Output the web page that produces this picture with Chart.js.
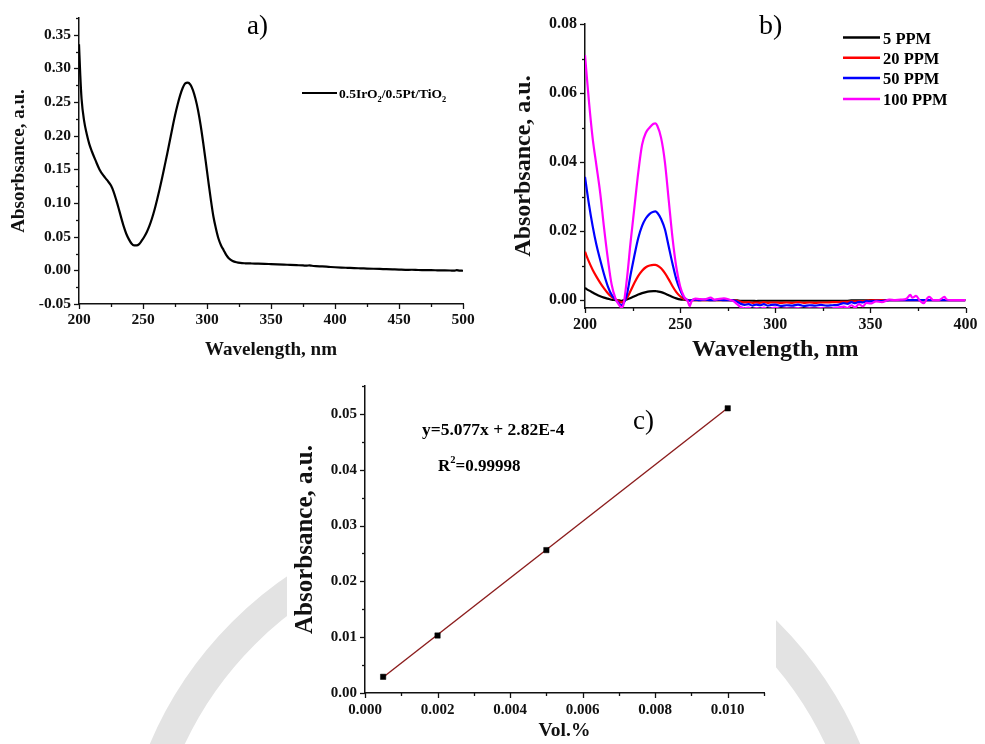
<!DOCTYPE html>
<html>
<head>
<meta charset="utf-8">
<title>UV-Vis absorbance panels</title>
<script src="https://cdn.jsdelivr.net/npm/chart.js@4.4.1/dist/chart.umd.min.js"></script>
<style>
  html, body { margin: 0; padding: 0; background: #fff; }
  #page { position: relative; width: 985px; height: 744px; overflow: hidden; background: #fff; }
  canvas { position: absolute; display: block; }
  #seal { left: 0; top: 0; }
  #chartA { left: 0; top: 0; }
  #chartB { left: 500px; top: 0; }
  #chartC { left: 287px; top: 368px; background: #fff; }
</style>
</head>
<body>
<div id="page">
  <canvas id="seal" width="985" height="744"></canvas>
  <canvas id="chartA" width="500" height="370" style="width:500px;height:370px"></canvas>
  <canvas id="chartB" width="485" height="370" style="width:485px;height:370px"></canvas>
  <canvas id="chartC" width="489" height="376" style="width:489px;height:376px"></canvas>
</div>
<script>
// ---- (a) spectrum of the 0.5IrO2/0.5Pt/TiO2 catalyst ----
const waveA = [200, 201, 202, 204, 206, 208, 210, 213, 216, 219, 222, 225, 227, 229, 231, 233, 235, 237, 239, 241,
  243, 245, 247, 249, 251, 253, 255, 257, 259, 261, 263, 265, 267, 269, 271, 273, 275, 277, 279, 281,
  283, 285, 287, 289, 291, 293, 295, 297, 299, 301, 303, 305, 307, 309, 311, 313, 315, 317, 320, 323,
  326, 330, 335, 340, 345, 350, 355, 360, 365, 370, 375, 378, 380, 382, 385, 390, 395, 400, 405, 410,
  415, 420, 425, 430, 435, 440, 445, 450, 455, 460, 465, 470, 475, 480, 485, 490, 493, 495, 497, 500];
const absA = [0.336, 0.290, 0.255, 0.222, 0.203, 0.188, 0.177, 0.163, 0.150, 0.141, 0.134, 0.126, 0.117, 0.105, 0.092, 0.078, 0.065, 0.054, 0.046, 0.040,
  0.037, 0.037, 0.039, 0.044, 0.050, 0.057, 0.066, 0.077, 0.090, 0.105, 0.121, 0.138, 0.156, 0.174, 0.193, 0.212, 0.230, 0.246, 0.260, 0.271,
  0.278, 0.279, 0.276, 0.268, 0.255, 0.238, 0.216, 0.190, 0.162, 0.133, 0.105, 0.080, 0.062, 0.047, 0.037, 0.030, 0.023, 0.018, 0.014, 0.012,
  0.0110, 0.0105, 0.0102, 0.0100, 0.0097, 0.0093, 0.0089, 0.0085, 0.0081, 0.0077, 0.0073, 0.0070, 0.0074, 0.0068, 0.0063, 0.0058, 0.0052, 0.0046, 0.0041, 0.0037,
  0.0033, 0.0030, 0.0027, 0.0024, 0.0021, 0.0018, 0.0015, 0.0012, 0.0008, 0.0009, 0.0005, 0.0004, 0.0002, 0.0001, 0.0000, -0.0002, -0.0005, 0.0002, -0.0003, -0.0006];
const legendA = [{ t: '0.5IrO' }, { t: '2', sub: true }, { t: '/0.5Pt/TiO' }, { t: '2', sub: true }];

// ---- (b) spectra at four concentrations ----
const waveB = [200, 202, 204, 206, 208, 210, 212, 214, 216, 218, 219, 220, 222, 224, 226, 228, 230, 232, 234, 236,
  237, 238, 240, 242, 244, 246, 248, 250, 252, 254, 255, 256, 258, 260, 263, 266, 268, 270, 273, 276,
  278, 280, 282, 284, 286, 288, 290, 292, 294, 296, 298, 300, 303, 306, 309, 312, 315, 318, 321, 324,
  327, 330, 333, 336, 338, 340, 342, 344, 346, 348, 350, 353, 356, 360, 363, 366, 369, 371, 372, 374,
  376, 378, 380, 381, 383, 386, 389, 390, 392, 395, 400];
const ppm5 = [0.0035, 0.0028, 0.0022, 0.0016, 0.0011, 0.0007, 0.0004, 0.0001, 0.0000, -0.0001, -0.0002, -0.0001, 0.0002, 0.0006, 0.0011, 0.0016, 0.0020, 0.0023, 0.0025, 0.0026,
  0.0026, 0.0025, 0.0023, 0.0019, 0.0014, 0.0009, 0.0005, 0.0002, 0.0001, 0.0000, 0, 0, 0, 0, 0, 0, 0, 0, 0, 0,
  0.0000, -0.0001, -0.0002, -0.0002, -0.0002, -0.0002, -0.0003, -0.0002, -0.0002, -0.0002, -0.0002, -0.0002, -0.0002, -0.0002, -0.0002, -0.0002, -0.0002, -0.0002, -0.0002, -0.0002,
  -0.0002, -0.0002, -0.0002, -0.0002, -0.0002, -0.0001, -0.0001, -0.0001, -0.0001, -0.0001, 0, 0, 0, 0, 0, 0, 0, 0, 0, 0,
  0, 0, 0, 0, 0, 0, 0, 0, 0, 0, 0];
const ppm20 = [0.0140, 0.0112, 0.0088, 0.0068, 0.0050, 0.0034, 0.0020, 0.0009, 0.0002, -0.0004, -0.0007, -0.0005, 0.0006, 0.0027, 0.0050, 0.0070, 0.0085, 0.0095, 0.0100, 0.0102,
  0.0102, 0.0100, 0.0092, 0.0078, 0.0060, 0.0040, 0.0023, 0.0011, 0.0003, 0.0000, 0, 0, 0, 0, 0, 0, 0, 0, 0, 0,
  0.0000, -0.0002, -0.0005, -0.0007, -0.0006, -0.0008, -0.0007, -0.0008, -0.0006, -0.0008, -0.0007, -0.0007, -0.0008, -0.0007, -0.0008, -0.0006, -0.0008, -0.0007, -0.0008, -0.0007,
  -0.0007, -0.0006, -0.0006, -0.0005, -0.0005, -0.0004, -0.0004, -0.0003, -0.0003, -0.0002, -0.0001, 0, 0, 0, 0, 0, 0, 0, 0, 0,
  0, 0, 0, 0, 0, 0, 0, 0, 0, 0, 0];
const ppm50 = [0.0357, 0.0280, 0.0215, 0.0160, 0.0116, 0.0075, 0.0040, 0.0015, 0.0002, -0.0010, -0.0015, -0.0012, 0.0015, 0.0075, 0.0130, 0.0180, 0.0215, 0.0237, 0.0250, 0.0256,
  0.0257, 0.0253, 0.0235, 0.0205, 0.0155, 0.0105, 0.0060, 0.0030, 0.0008, 0.0000, -0.0002, 0.0000, 0.0001, 0.0000, 0.0001, 0.0000, 0.0000, 0.0001, 0.0000, 0.0000,
  -0.0001, -0.0005, -0.0011, -0.0014, -0.0012, -0.0016, -0.0013, -0.0015, -0.0012, -0.0016, -0.0014, -0.0013, -0.0017, -0.0015, -0.0016, -0.0013, -0.0017, -0.0015, -0.0016, -0.0014,
  -0.0016, -0.0015, -0.0014, -0.0009, -0.0011, -0.0006, -0.0009, -0.0005, -0.0007, -0.0003, -0.0004, -0.0002, -0.0003, 0, 0, 0, 0, 0, 0, 0,
  0, 0, 0, 0, 0, 0, 0, 0, 0, 0, 0];
const ppm100 = [0.0710, 0.0580, 0.0470, 0.0390, 0.0310, 0.0210, 0.0120, 0.0045, 0.0005, -0.0015, -0.0021, -0.0017, 0.0060, 0.0170, 0.0270, 0.0370, 0.0450, 0.0485, 0.0500, 0.0511,
  0.0512, 0.0505, 0.0470, 0.0400, 0.0290, 0.0180, 0.0095, 0.0040, 0.0010, -0.0003, -0.0018, -0.0004, 0.0004, 0.0003, 0.0002, 0.0007, 0.0001, 0.0003, 0.0005, 0.0001,
  -0.0003, -0.0012, -0.0021, -0.0024, -0.0022, -0.0026, -0.0023, -0.0025, -0.0022, -0.0026, -0.0024, -0.0022, -0.0026, -0.0024, -0.0025, -0.0023, -0.0026, -0.0024, -0.0025, -0.0023,
  -0.0025, -0.0024, -0.0022, -0.0019, -0.0024, -0.0015, -0.0021, -0.0012, -0.0018, -0.0008, -0.0010, -0.0004, -0.0006, 0.0001, 0.0000, 0.0001, 0.0004, 0.0015, 0.0007, 0.0012,
  -0.0002, -0.0009, 0.0006, 0.0009, 0.0000, 0.0000, 0.0009, 0.0002, 0.0000, 0.0000, 0.0000];
const seriesB = ['5 PPM', '20 PPM', '50 PPM', '100 PPM'];
const colorsB = ['#000000', '#ff0000', '#0000ff', '#ff00ff'];

// ---- (c) calibration line ----
const volPct = [0.0005, 0.002, 0.005, 0.010];
const absC = [0.0029, 0.0103, 0.0256, 0.0510];
const fitSlope = 5.077;
const fitIntercept = 2.82e-4;

const serif = "'Liberation Serif', 'Times New Roman', serif";

// light grey seal ring behind the lower panel
(function drawSeal() {
  const ctx = document.getElementById('seal').getContext('2d');
  ctx.strokeStyle = '#e3e3e3';
  ctx.lineWidth = 32;
  ctx.beginPath();
  ctx.arc(505, 895, 370, 0, Math.PI * 2);
  ctx.stroke();
})();

// major/minor tick marks drawn from the chart's own scales
const axisMarks = {
  id: 'axisMarks',
  afterDraw(chart, args, opts) {
    const ctx = chart.ctx;
    const area = chart.chartArea;
    ctx.save();
    ctx.strokeStyle = '#111';
    ctx.lineWidth = 1.3;
    for (const id of ['x', 'y']) {
      const s = chart.scales[id];
      const spec = opts[id];
      if (!spec) continue;
      const n = Math.round((s.max - spec.start) / spec.minor);
      for (let i = 0; i <= n; i++) {
        const v = spec.start + i * spec.minor;
        if (v < s.min - 1e-9 || v > s.max + 1e-9) continue;
        const q = v / spec.major;
        const major = Math.abs(q - Math.round(q)) < 1e-6;
        const len = major ? 5 : 3;
        const p = Math.round(s.getPixelForValue(v)) + 0.5;
        ctx.beginPath();
        if (id === 'x') {
          ctx.moveTo(p, area.bottom);
          ctx.lineTo(p, area.bottom + len);
        } else {
          ctx.moveTo(area.left, p);
          ctx.lineTo(area.left - len, p);
        }
        ctx.stroke();
      }
    }
    ctx.restore();
  }
};

// panel letters, legends and the fit equation
const panelNotes = {
  id: 'panelNotes',
  afterDraw(chart, args, opts) {
    const ctx = chart.ctx;
    for (const it of (opts.items || [])) {
      ctx.save();
      if (it.line) {
        ctx.strokeStyle = it.color;
        ctx.lineWidth = it.width;
        ctx.beginPath();
        ctx.moveTo(it.line[0], it.line[2]);
        ctx.lineTo(it.line[1], it.line[2]);
        ctx.stroke();
      }
      if (it.runs) {
        let x = it.x;
        ctx.textBaseline = 'alphabetic';
        ctx.textAlign = 'left';
        ctx.fillStyle = '#000';
        for (const r of it.runs) {
          const size = (r.sub || r.sup) ? it.size * 0.62 : it.size;
          const dy = r.sub ? it.size * 0.28 : (r.sup ? -it.size * 0.42 : 0);
          ctx.font = `${it.weight || 'normal'} ${size}px ${serif}`;
          ctx.fillText(r.t, x, it.y + dy);
          x += ctx.measureText(r.t).width;
        }
      }
      ctx.restore();
    }
  }
};

function axis(opts) {
  return {
    type: 'linear',
    position: opts.position,
    min: opts.min,
    max: opts.max,
    afterFit: opts.position === 'bottom' ? (s) => { s.height = opts.size; } : (s) => { s.width = opts.size; },
    grid: { display: false, drawTicks: false },
    border: { display: true, color: '#111', width: 1.5 },
    ticks: {
      stepSize: opts.step,
      includeBounds: false,
      autoSkip: false,
      maxRotation: 0,
      padding: opts.tickPad,
      color: '#111',
      font: { family: serif, size: opts.tickSize, weight: 'bold' },
      callback: (v) => Number(v).toFixed(opts.digits)
    },
    title: {
      display: true,
      text: opts.title,
      color: '#111',
      font: { family: serif, size: opts.titleSize, weight: 'bold' },
      padding: opts.titlePad
    }
  };
}

const baseOptions = {
  responsive: false,
  animation: false,
  events: [],
  devicePixelRatio: 1
};

// (a)
new Chart(document.getElementById('chartA'), {
  type: 'line',
  data: {
    datasets: [{
      label: '0.5IrO2/0.5Pt/TiO2',
      data: waveA.map((x, i) => ({ x, y: absA[i] })),
      borderColor: '#000',
      borderWidth: 2.2,
      pointRadius: 0,
      cubicInterpolationMode: 'monotone',
      fill: false
    }]
  },
  options: Object.assign({}, baseOptions, {
    layout: { padding: { left: 0, top: 18, right: 37, bottom: 0 } },
    plugins: {
      legend: { display: false },
      tooltip: { enabled: false },
      axisMarks: { x: { start: 200, major: 50, minor: 25 }, y: { start: -0.05, major: 0.05, minor: 0.025 } },
      panelNotes: {
        items: [
          { runs: [{ t: 'a)' }], x: 247, y: 33.5, size: 27 },
          { line: [302, 337, 93], color: '#000', width: 2.2 },
          { runs: legendA, x: 339, y: 98, size: 13.5, weight: 'bold' }
        ]
      }
    },
    scales: {
      x: axis({ position: 'bottom', min: 200, max: 500, size: 66, step: 50, tickPad: 6.5, tickSize: 15.5, digits: 0,
        title: 'Wavelength, nm', titleSize: 19, titlePad: { top: 0, bottom: 8.6 } }),
      y: axis({ position: 'left', min: -0.05, max: 0.375, size: 79, step: 0.05, tickPad: 8, tickSize: 15.5, digits: 2,
        title: 'Absorbsance, a.u.', titleSize: 19, titlePad: { top: 7.6, bottom: 0 } })
    }
  }),
  plugins: [axisMarks, panelNotes]
});

// (b)
const seriesValuesB = [ppm5, ppm20, ppm50, ppm100];
new Chart(document.getElementById('chartB'), {
  type: 'line',
  data: {
    datasets: seriesB.map((name, k) => ({
      label: name,
      data: waveB.map((x, i) => ({ x, y: seriesValuesB[k][i] })),
      borderColor: colorsB[k],
      borderWidth: 2.2,
      pointRadius: 0,
      cubicInterpolationMode: 'monotone',
      fill: false,
      order: seriesB.length - 1 - k
    }))
  },
  options: Object.assign({}, baseOptions, {
    layout: { padding: { left: 0, top: 24, right: 14, bottom: 0 } },
    plugins: {
      legend: { display: false },
      tooltip: { enabled: false },
      axisMarks: { x: { start: 200, major: 50, minor: 25 }, y: { start: 0, major: 0.02, minor: 0.01 } },
      panelNotes: {
        items: [{ runs: [{ t: 'b)' }], x: 259, y: 33.5, size: 28 }].concat(
          seriesB.flatMap((name, k) => {
            const rowY = [37.5, 57.8, 78, 99][k];
            return [
              { line: [343, 380, rowY], color: colorsB[k], width: 2.5 },
              { runs: [{ t: name }], x: 383, y: rowY + 6, size: 16.5, weight: 'bold' }
            ];
          }))
      }
    },
    scales: {
      x: axis({ position: 'bottom', min: 200, max: 400, size: 62, step: 50, tickPad: 7.5, tickSize: 16, digits: 0,
        title: 'Wavelength, nm', titleSize: 24, titlePad: { top: 0, bottom: 5.6 } }),
      y: axis({ position: 'left', min: -0.0023, max: 0.08, size: 85, step: 0.02, tickPad: 8, tickSize: 16, digits: 2,
        title: 'Absorbsance, a.u.', titleSize: 24, titlePad: { top: 9.6, bottom: 0 } })
    }
  }),
  plugins: [axisMarks, panelNotes]
});

// (c)
const fitEnds = [volPct[0], volPct[volPct.length - 1]];
new Chart(document.getElementById('chartC'), {
  type: 'line',
  data: {
    datasets: [
      {
        label: 'Absorbance',
        data: volPct.map((x, i) => ({ x, y: absC[i] })),
        showLine: false,
        pointStyle: 'rect',
        pointRadius: 3.8,
        pointBackgroundColor: '#000',
        pointBorderColor: '#000',
        pointBorderWidth: 0.5,
        order: 0
      },
      {
        label: 'Linear fit',
        data: fitEnds.map((x) => ({ x, y: fitSlope * x + fitIntercept })),
        borderColor: '#8b1c1c',
        borderWidth: 1.4,
        pointRadius: 0,
        fill: false,
        order: 1
      }
    ]
  },
  options: Object.assign({}, baseOptions, {
    layout: { padding: { left: 0, top: 18, right: 12, bottom: 0 } },
    plugins: {
      legend: { display: false },
      tooltip: { enabled: false },
      axisMarks: { x: { start: 0, major: 0.002, minor: 0.001 }, y: { start: 0, major: 0.01, minor: 0.005 } },
      panelNotes: {
        items: [
          { runs: [{ t: 'c)' }], x: 346, y: 60.5, size: 27 },
          { runs: [{ t: 'y=' + fitSlope.toFixed(3) + 'x + 2.82E-4' }], x: 135, y: 67, size: 17.5, weight: 'bold' },
          { runs: [{ t: 'R' }, { t: '2', sup: true }, { t: '=0.99998' }], x: 151, y: 102.5, size: 17, weight: 'bold' }
        ]
      }
    },
    scales: {
      x: axis({ position: 'bottom', min: 0, max: 0.011, size: 51, step: 0.002, tickPad: 8, tickSize: 15, digits: 3,
        title: 'Vol.%', titleSize: 19.5, titlePad: { top: 0, bottom: 1.6 } }),
      y: axis({ position: 'left', min: 0, max: 0.055, size: 78, step: 0.01, tickPad: 8, tickSize: 15, digits: 2,
        title: 'Absorbsance, a.u.', titleSize: 25, titlePad: { top: 4, bottom: 0 } })
    }
  }),
  plugins: [axisMarks, panelNotes]
});
</script>
</body>
</html>
